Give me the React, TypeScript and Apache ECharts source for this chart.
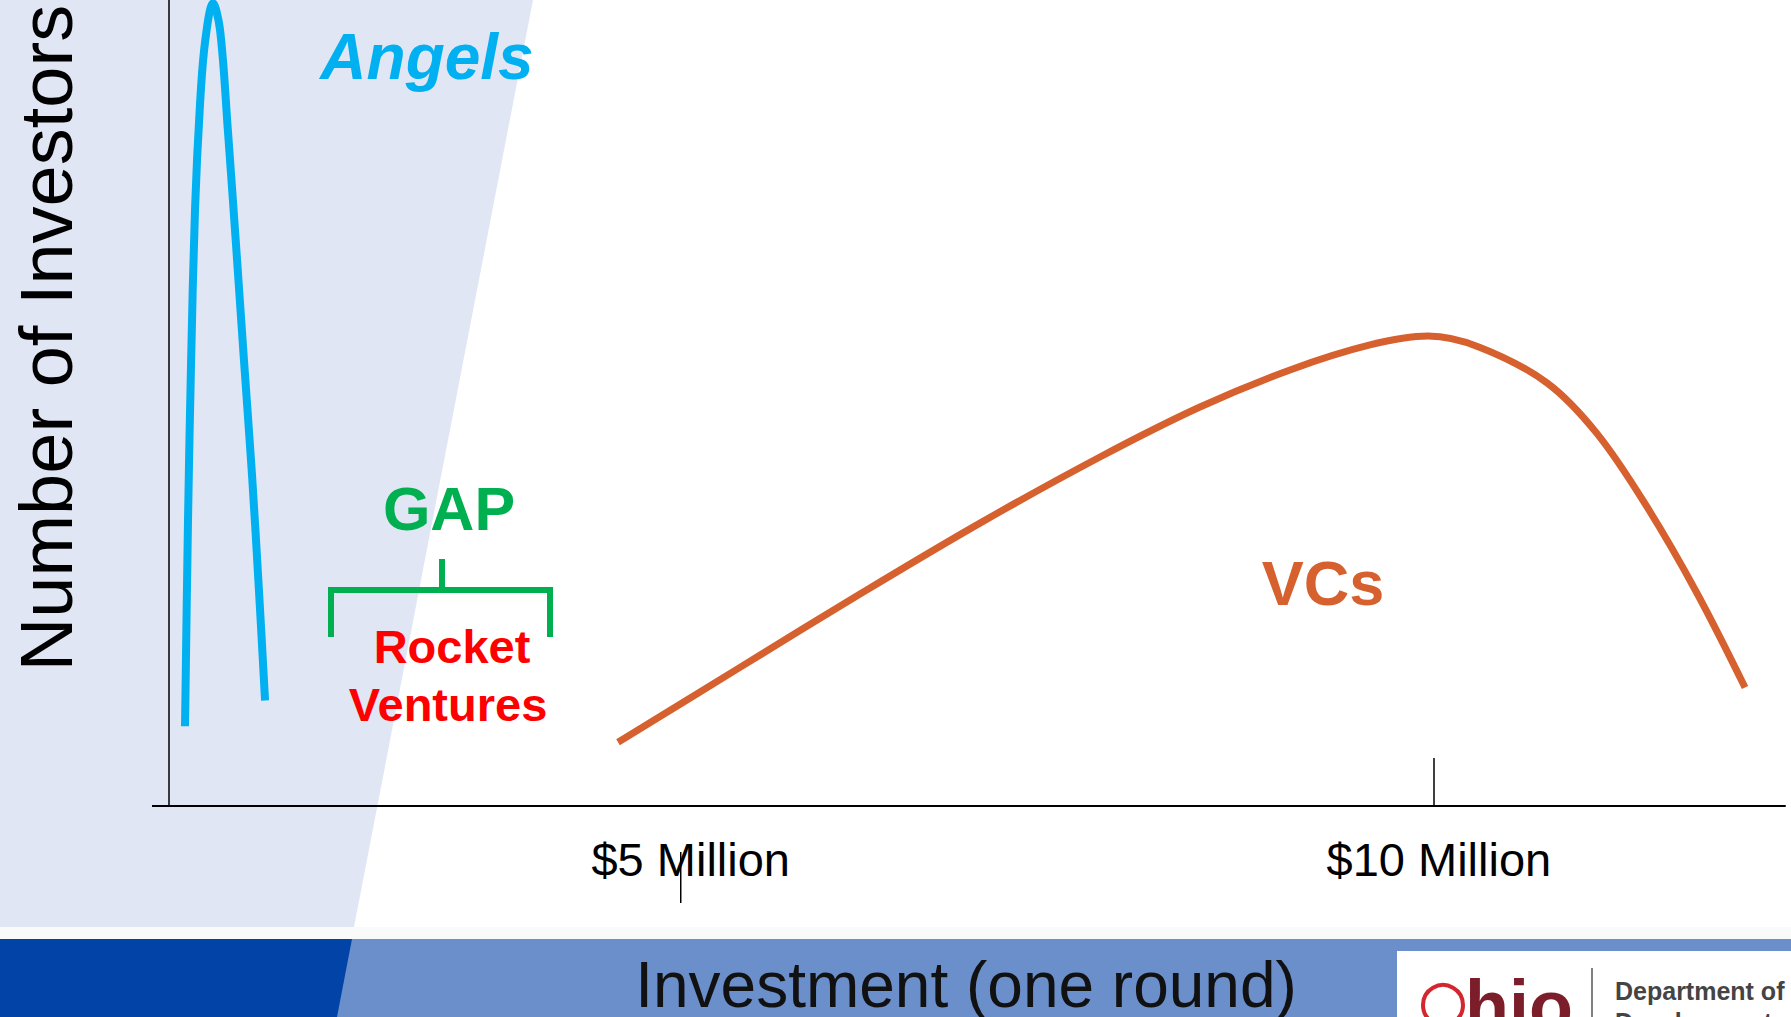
import React, { useEffect, useRef } from "react";
import * as echarts from "echarts";

// Investment in $ millions (x) vs. relative number of investors (y, 0–100)
const angelX = [1.657, 1.677, 1.697, 1.724, 1.757, 1.791, 1.844, 1.891, 1.944, 1.998, 2.051, 2.105, 2.151, 2.192];
const angelY = [9.9, 35.4, 54.6, 74.1, 87.0, 94.8, 99.6, 96.3, 83.7, 69.6, 55.3, 41.0, 26.8, 13.1];

const vcX = [4.551, 5.366, 6.168, 6.97, 7.772, 8.44, 9.042, 9.576, 9.964, 10.312, 10.759, 11.094, 11.428, 11.762, 12.083];
const vcY = [7.9, 17.2, 26.3, 35.1, 43.3, 49.5, 54.1, 57.2, 58.3, 56.9, 52.5, 46.2, 37.1, 26.4, 14.7];

const tickLabelValues = [5, 10];
const tickMarkValues = [10];

const W = 1791;
const H = 1017;
const FONT = "'Liberation Sans', Arial, Helvetica, sans-serif";

export default function App() {
  const ref = useRef<HTMLDivElement>(null);

  useEffect(() => {
    document.body.style.margin = "0";
    const el = ref.current;
    if (!el) return;
    const chart = echarts.init(el, null, { renderer: "svg", width: W, height: H });

    const angelData = angelX.map((x, i) => [x, angelY[i]]);
    const vcData = vcX.map((x, i) => [x, vcY[i]]);

    const baseGraphics: any[] = [
      {
        type: "polygon",
        z: -10,
        shape: { points: [[0, 0], [533, 0], [354, 927], [0, 927]] },
        style: { fill: "#E1E6F4" },
      },
      {
        type: "rect",
        z: -10,
        shape: { x: 0, y: 927, width: W, height: 12 },
        style: { fill: "#F8FBF9" },
      },
      {
        type: "rect",
        z: -9,
        shape: { x: 0, y: 939, width: W, height: H - 939 },
        style: { fill: "#6A8FCB" },
      },
      {
        type: "polygon",
        z: -8,
        shape: { points: [[0, 939], [352, 939], [337, H], [0, H]] },
        style: { fill: "#0243A8" },
      },
      {
        type: "rect",
        z: -7,
        shape: { x: 1397, y: 951, width: W - 1397, height: H - 951 },
        style: { fill: "#FFFFFF" },
      },
      {
        type: "circle",
        z: 5,
        shape: { cx: 1443, cy: 1005, r: 20 },
        style: { fill: "none", stroke: "#D3262E", lineWidth: 4 },
      },
      {
        type: "text",
        z: 5,
        x: 1465,
        y: 1042,
        style: {
          text: "hio",
          fill: "#7C1D2A",
          font: `bold 72px ${FONT}`,
          textAlign: "left",
          textVerticalAlign: "bottom",
        },
      },
      {
        type: "line",
        z: 5,
        shape: { x1: 1592, y1: 968, x2: 1592, y2: H },
        style: { stroke: "#555555", lineWidth: 1.5 },
      },
      {
        type: "text",
        z: 5,
        x: 1615,
        y: 991,
        style: {
          text: "Department of",
          fill: "#444444",
          font: `bold 25px ${FONT}`,
          textAlign: "left",
          textVerticalAlign: "middle",
        },
      },
      {
        type: "text",
        z: 5,
        x: 1615,
        y: 1022,
        style: {
          text: "Development",
          fill: "#444444",
          font: `bold 25px ${FONT}`,
          textAlign: "left",
          textVerticalAlign: "middle",
        },
      },
      {
        type: "line",
        z: 10,
        shape: { x1: 152, y1: 806, x2: 170, y2: 806 },
        style: { stroke: "#000", lineWidth: 2 },
      },
      {
        type: "text",
        z: 10,
        x: 46,
        y: 338,
        rotation: Math.PI / 2,
        style: {
          text: "Number of Investors",
          fill: "#000",
          font: `74px ${FONT}`,
          textAlign: "center",
          textVerticalAlign: "middle",
        },
      },
      {
        type: "text",
        z: 10,
        x: 966,
        y: 985,
        style: {
          text: "Investment (one round)",
          fill: "#111",
          font: `64px ${FONT}`,
          textAlign: "center",
          textVerticalAlign: "middle",
        },
      },
      {
        type: "text",
        z: 10,
        x: 427,
        y: 57,
        style: {
          text: "Angels",
          fill: "#00B0F0",
          font: `italic bold 64px ${FONT}`,
          textAlign: "center",
          textVerticalAlign: "middle",
        },
      },
      {
        type: "text",
        z: 10,
        x: 449,
        y: 509,
        style: {
          text: "GAP",
          fill: "#00B050",
          font: `bold 61px ${FONT}`,
          textAlign: "center",
          textVerticalAlign: "middle",
        },
      },
      {
        type: "polyline",
        z: 10,
        shape: { points: [[331, 637], [331, 590], [550, 590], [550, 637]] },
        style: { fill: "none", stroke: "#00B050", lineWidth: 6 },
      },
      {
        type: "line",
        z: 10,
        shape: { x1: 442, y1: 559, x2: 442, y2: 590 },
        style: { stroke: "#00B050", lineWidth: 6 },
      },
      {
        type: "text",
        z: 10,
        x: 452,
        y: 646,
        style: {
          text: "Rocket",
          fill: "#FF0000",
          font: `bold 47px ${FONT}`,
          textAlign: "center",
          textVerticalAlign: "middle",
        },
      },
      {
        type: "text",
        z: 10,
        x: 448,
        y: 704,
        style: {
          text: "Ventures",
          fill: "#FF0000",
          font: `bold 47px ${FONT}`,
          textAlign: "center",
          textVerticalAlign: "middle",
        },
      },
      {
        type: "text",
        z: 10,
        x: 1323,
        y: 583,
        style: {
          text: "VCs",
          fill: "#D6602E",
          font: `bold 63px ${FONT}`,
          textAlign: "center",
          textVerticalAlign: "middle",
        },
      },
    ];

    chart.setOption({
      animation: false,
      backgroundColor: "#FFFFFF",
      grid: { left: 169, right: 6, top: 0, bottom: 211, containLabel: false },
      xAxis: {
        type: "value",
        min: 1.55,
        max: 12.35,
        splitLine: { show: false },
        axisLine: { show: true, onZero: false, lineStyle: { color: "#000", width: 2 } },
        axisTick: {
          show: true,
          inside: true,
          length: 48,
          customValues: tickMarkValues,
          lineStyle: { color: "#000", width: 1.5 },
        },
        axisLabel: {
          show: true,
          customValues: tickLabelValues,
          formatter: (v: number) => `$${v} Million`,
          color: "#000",
          fontFamily: FONT,
          fontSize: 47,
          margin: 30,
          padding: [0, 0, 0, 11],
        },
      },
      yAxis: {
        type: "value",
        min: 0,
        max: 100,
        splitLine: { show: false },
        axisLine: { show: true, lineStyle: { color: "#000", width: 1.5 } },
        axisTick: { show: false },
        axisLabel: { show: false },
      },
      series: [
        {
          name: "Angels",
          type: "line",
          data: angelData,
          smooth: 0.35,
          symbol: "none",
          lineStyle: { color: "#00B0F0", width: 8, cap: "butt" },
          z: 3,
        },
        {
          name: "VCs",
          type: "line",
          data: vcData,
          smooth: 0.35,
          symbol: "none",
          lineStyle: { color: "#D6602E", width: 7, cap: "butt" },
          z: 3,
        },
      ],
      graphic: baseGraphics,
    });

    const px = chart.convertToPixel({ xAxisIndex: 0 }, 4.97) as number;
    chart.setOption({
      graphic: [
        ...baseGraphics,
        {
          type: "line",
          z: 12,
          shape: { x1: px, y1: 852, x2: px, y2: 903 },
          style: { stroke: "#000", lineWidth: 1.5 },
        },
      ],
    });

    return () => chart.dispose();
  }, []);

  return (
    <div
      ref={ref}
      style={{ position: "fixed", left: 0, top: 0, width: W, height: H }}
    />
  );
}
